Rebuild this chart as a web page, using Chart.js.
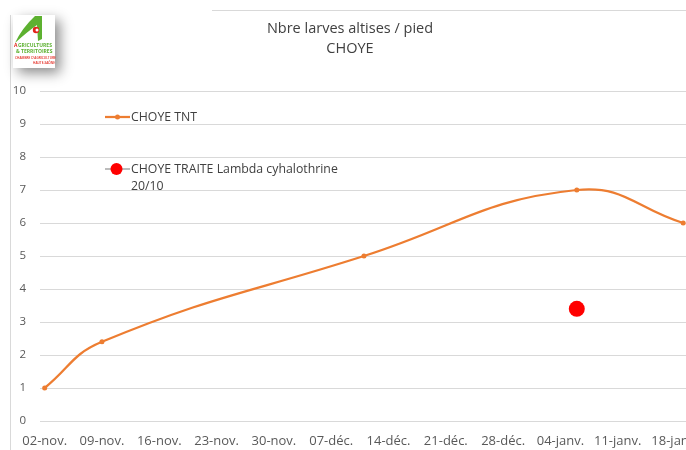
<!DOCTYPE html>
<html>
<head>
<meta charset="utf-8">
<script src="https://cdn.jsdelivr.net/npm/chart.js@4.4.1/dist/chart.umd.min.js"></script>
<style>
    html, body { margin: 0; padding: 0; background: #fff; overflow: hidden; }
    #wrap { position: relative; width: 716px; height: 450px; }
</style>
</head>
<body>
<div id="wrap"><canvas id="larvesChart"></canvas></div>
<script>
// Tick labels of the date axis (one per week) and their day numbers from 02-nov.
var tickLabels = ["02-nov.", "09-nov.", "16-nov.", "23-nov.", "30-nov.", "07-déc.", "14-déc.", "21-déc.", "28-déc.", "04-janv.", "11-janv.", "18-janv."];
var tickDays = [0, 7, 14, 21, 28, 35, 42, 49, 56, 63, 70, 77];

// CHOYE TNT
var tntDays = [0, 7, 39, 65, 78];
var tntValues = [1, 2.4, 5, 7, 6];

// CHOYE TRAITE Lambda cyhalothrine 20/10
var traiteDays = [65];
var traiteValues = [3.4];

var yTicks = [0, 1, 2, 3, 4, 5, 6, 7, 8, 9, 10];

var FONT = "'Open Sans', 'DejaVu Sans', sans-serif";
var ORANGE = "#ED7D31";
var RED = "#FF0000";

var toPoints = function(days, values) {
    return days.map(function(d, i) { return { x: d, y: values[i] }; });
};

var drawLogo = function(ctx) {
    ctx.save();
    ctx.shadowColor = "rgba(0,0,0,0.45)";
    ctx.shadowBlur = 12;
    ctx.shadowOffsetX = 5;
    ctx.shadowOffsetY = 5;
    ctx.fillStyle = "#fff";
    ctx.fillRect(13, 15, 42, 53);
    ctx.restore();

    ctx.save();
    // green "A" swoosh
    ctx.fillStyle = "#5DB130";
    ctx.beginPath();
    ctx.moveTo(15, 43);
    ctx.quadraticCurveTo(22, 28, 35, 16);
    ctx.lineTo(42, 16);
    ctx.lineTo(42, 39);
    ctx.lineTo(38, 41);
    ctx.lineTo(37, 25);
    ctx.quadraticCurveTo(27, 32, 15, 43);
    ctx.fill();
    // red swirl
    ctx.fillStyle = "#E2231A";
    ctx.beginPath();
    ctx.arc(36, 30, 3.2, 0, Math.PI * 2);
    ctx.fill();
    ctx.fillStyle = "#fff";
    ctx.beginPath();
    ctx.arc(37, 30, 1.5, 0, Math.PI * 2);
    ctx.fill();

    ctx.textBaseline = "middle";
    ctx.font = "700 5px " + FONT;
    ctx.fillStyle = "#E2231A";
    ctx.fillText("A", 14, 46);
    ctx.fillStyle = "#5DB130";
    ctx.fillText("GRICULTURES", 18, 46);
    ctx.fillText("& TERRITOIRES", 16, 52);
    ctx.font = "600 3.2px " + FONT;
    ctx.fillStyle = "#E2231A";
    ctx.fillText("CHAMBRE D'AGRICULTURE", 15, 58);
    ctx.fillText("HAUTE-SAÔNE", 33, 63);
    ctx.restore();
};

var decorPlugin = {
    id: "decor",
    beforeDraw: function(chart) {
        var ctx = chart.ctx;
        ctx.save();
        ctx.fillStyle = "#fff";
        ctx.fillRect(0, 0, chart.width, chart.height);
        // chart frame
        ctx.strokeStyle = "#d9d9d9";
        ctx.lineWidth = 1;
        ctx.beginPath();
        ctx.moveTo(10.5, 15);
        ctx.lineTo(10.5, chart.height);
        ctx.moveTo(212, 10.5);
        ctx.lineTo(chart.width, 10.5);
        ctx.stroke();
        // title
        ctx.fillStyle = "#404040";
        ctx.font = "14.5px " + FONT;
        ctx.textAlign = "center";
        ctx.textBaseline = "middle";
        ctx.fillText("Nbre larves altises / pied", 350, 29);
        ctx.fillText("CHOYE", 350, 49);
        ctx.restore();
    },
    afterDraw: function(chart) {
        var ctx = chart.ctx;
        ctx.save();
        // legend
        ctx.lineWidth = 2.25;
        ctx.strokeStyle = ORANGE;
        ctx.beginPath();
        ctx.moveTo(105, 117);
        ctx.lineTo(130, 117);
        ctx.stroke();
        ctx.fillStyle = ORANGE;
        ctx.beginPath();
        ctx.arc(117.5, 117, 2.5, 0, Math.PI * 2);
        ctx.fill();

        ctx.strokeStyle = "#a6a6a6";
        ctx.lineWidth = 1.5;
        ctx.beginPath();
        ctx.moveTo(105, 169);
        ctx.lineTo(130, 169);
        ctx.stroke();
        ctx.fillStyle = RED;
        ctx.beginPath();
        ctx.arc(116.5, 169, 6, 0, Math.PI * 2);
        ctx.fill();

        ctx.fillStyle = "#404040";
        ctx.font = "12.3px " + FONT;
        ctx.textAlign = "left";
        ctx.textBaseline = "middle";
        ctx.fillText(chart.data.datasets[0].label, 131, 117);
        ctx.fillText("CHOYE TRAITE Lambda cyhalothrine", 131, 169);
        ctx.fillText("20/10", 131, 186);
        ctx.restore();

        drawLogo(ctx);
    }
};

var ctx = document.getElementById("larvesChart").getContext("2d");
var larvesChart = new Chart(ctx, {
    type: "line",
    data: {
        datasets: [
            {
                label: "CHOYE TNT",
                data: toPoints(tntDays, tntValues),
                borderColor: ORANGE,
                backgroundColor: ORANGE,
                borderWidth: 2.25,
                pointRadius: 2.5,
                pointBorderWidth: 0,
                tension: 0.45,
                fill: false
            },
            {
                label: "CHOYE TRAITE Lambda cyhalothrine 20/10",
                data: toPoints(traiteDays, traiteValues),
                borderColor: RED,
                backgroundColor: RED,
                showLine: false,
                pointRadius: 8,
                pointBorderWidth: 0
            }
        ]
    },
    options: {
        responsive: true,
        maintainAspectRatio: false,
        animation: false,
        layout: { padding: { top: 91, left: 0, right: 16, bottom: 0 } },
        plugins: {
            legend: { display: false },
            title: { display: false },
            tooltip: { enabled: false }
        },
        scales: {
            x: {
                type: "linear",
                min: -0.57,
                max: 80.05,
                grid: { display: false },
                border: { display: false },
                afterBuildTicks: function(scale) {
                    scale.ticks = tickDays.map(function(d) { return { value: d }; });
                },
                afterFit: function(scale) {
                    scale.height = 29;
                    scale.paddingRight = 0;
                },
                ticks: {
                    autoSkip: false,
                    maxRotation: 0,
                    padding: 4,
                    color: "#595959",
                    font: { family: FONT, size: 13 },
                    callback: function(value, index) { return tickLabels[index]; }
                }
            },
            y: {
                min: 0,
                max: 10,
                grid: { color: "#d9d9d9", lineWidth: 1, drawTicks: false },
                border: { display: false },
                afterBuildTicks: function(scale) {
                    scale.ticks = yTicks.map(function(v) { return { value: v }; });
                },
                afterFit: function(scale) { scale.width = 40; },
                ticks: {
                    padding: 14,
                    color: "#595959",
                    font: { family: FONT, size: 11.5 }
                }
            }
        }
    },
    plugins: [decorPlugin]
});
</script>
</body>
</html>
